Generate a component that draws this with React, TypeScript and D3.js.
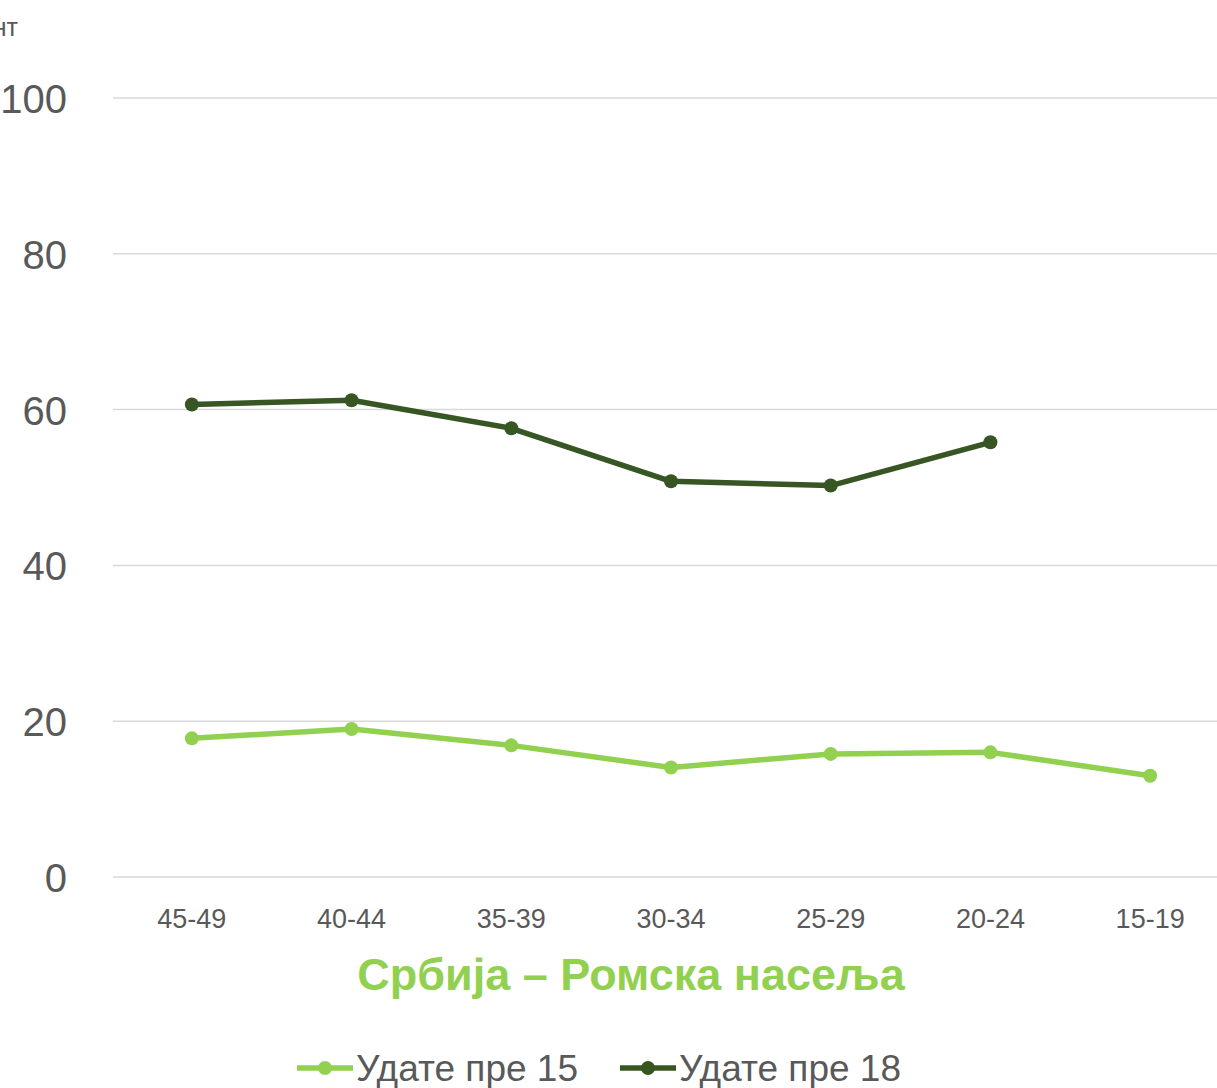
import React, { useEffect, useRef } from 'react';
import * as d3 from 'd3';

const ageGroups = ['45-49', '40-44', '35-39', '30-34', '25-29', '20-24', '15-19'];
const marriedBefore15 = [17.8, 19.0, 16.9, 14.05, 15.8, 16.0, 13.0];
const marriedBefore18: (number | null)[] = [60.65, 61.2, 57.6, 50.8, 50.25, 55.8, null];
const yTicks = [0, 20, 40, 60, 80, 100];
const seriesNames = ['Удате пре 15', 'Удате пре 18'];
const colors = ['#92d050', '#375623'];

const App = () => {
  const ref = useRef<SVGSVGElement>(null);

  useEffect(() => {
    const width = 1217;
    const svg = d3.select(ref.current);
    svg.selectAll('*').remove();

    const font = '"Liberation Sans", Arial, sans-serif';

    // plot runs past the right edge (chart is cropped)
    const xScale = d3.scaleBand().domain(ageGroups).range([112, 1230]);
    const yScale = d3.scaleLinear().domain([0, 100]).range([877, 98]);

    // gridlines
    svg.append('g')
      .selectAll('line')
      .data(yTicks)
      .enter().append('line')
      .attr('x1', 113)
      .attr('x2', width)
      .attr('y1', d => yScale(d))
      .attr('y2', d => yScale(d))
      .attr('stroke', '#d9d9d9')
      .attr('stroke-width', 1.5);

    // y labels
    svg.append('g')
      .selectAll('text')
      .data(yTicks)
      .enter().append('text')
      .attr('x', 67)
      .attr('y', d => yScale(d) + 15)
      .attr('text-anchor', 'end')
      .style('font-family', font)
      .style('font-size', '40px')
      .attr('fill', '#595959')
      .text(d => d);

    // axis title, cut off at the left edge like the source
    svg.append('text')
      .attr('x', 18)
      .attr('y', 36)
      .attr('text-anchor', 'end')
      .style('font-family', font)
      .style('font-size', '25px')
      .attr('fill', '#595959')
      .text('Процент');

    // x labels
    svg.append('g')
      .selectAll('text')
      .data(ageGroups)
      .enter().append('text')
      .attr('x', d => (xScale(d) as number) + xScale.bandwidth() / 2)
      .attr('y', 928)
      .attr('text-anchor', 'middle')
      .style('font-family', font)
      .style('font-size', '27px')
      .attr('fill', '#595959')
      .text(d => d);

    const cx = (i: number) => (xScale(ageGroups[i]) as number) + xScale.bandwidth() / 2;

    [marriedBefore15, marriedBefore18].forEach((values, s) => {
      const pts = values
        .map((v, i) => ({ v, i }))
        .filter(p => p.v !== null) as { v: number; i: number }[];

      const line = d3.line<{ v: number; i: number }>()
        .x(p => cx(p.i))
        .y(p => yScale(p.v));

      svg.append('path')
        .datum(pts)
        .attr('d', line)
        .attr('fill', 'none')
        .attr('stroke', colors[s])
        .attr('stroke-width', 5.5)
        .attr('stroke-linejoin', 'round');

      svg.append('g')
        .selectAll('circle')
        .data(pts)
        .enter().append('circle')
        .attr('cx', p => cx(p.i))
        .attr('cy', p => yScale(p.v))
        .attr('r', 7)
        .attr('fill', colors[s]);
    });

    // title
    svg.append('text')
      .attr('x', 631)
      .attr('y', 990)
      .attr('text-anchor', 'middle')
      .style('font-family', font)
      .style('font-size', '45px')
      .style('font-weight', 'bold')
      .attr('fill', '#92d050')
      .text('Србија – Ромска насеља');

    // legend
    const legendX = [297, 620];
    seriesNames.forEach((name, s) => {
      const x0 = legendX[s];
      svg.append('line')
        .attr('x1', x0)
        .attr('x2', x0 + 56)
        .attr('y1', 1068)
        .attr('y2', 1068)
        .attr('stroke', colors[s])
        .attr('stroke-width', 5.5);
      svg.append('circle')
        .attr('cx', x0 + 28)
        .attr('cy', 1068)
        .attr('r', 7)
        .attr('fill', colors[s]);
      svg.append('text')
        .attr('x', x0 + 59)
        .attr('y', 1081)
        .style('font-family', font)
        .style('font-size', '37px')
        .attr('fill', '#595959')
        .text(name);
    });
  }, []);

  return (
    <svg
      ref={ref}
      width={1217}
      height={1088}
      style={{ position: 'absolute', left: 0, top: 0, background: '#fff' }}
    />
  );
};

export default App;
